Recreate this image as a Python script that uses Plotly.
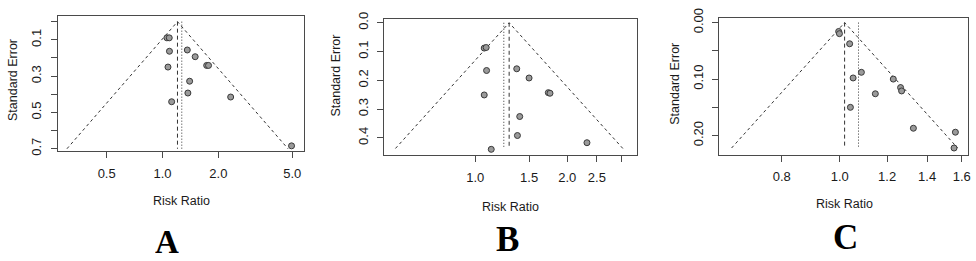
import math
import plotly.graph_objects as go

# ---------------- data ----------------
A_rr = [1.056, 1.087, 1.09, 1.36, 1.50, 1.73, 1.77, 1.07, 1.40, 1.37, 2.33, 1.12, 4.96]
A_se = [0.089, 0.089, 0.163, 0.156, 0.193, 0.241, 0.241, 0.250, 0.328, 0.393, 0.415, 0.441, 0.684]
A_est = 1.204      # dashed line / funnel apex
A_alt = 1.27       # dotted line
A_semax = 0.70

B_rr = [1.070, 1.086, 1.089, 1.367, 1.50, 1.734, 1.756, 1.070, 1.398, 1.374, 2.32, 1.128]
B_se = [0.088, 0.086, 0.166, 0.160, 0.192, 0.243, 0.245, 0.251, 0.326, 0.392, 0.417, 0.440]
B_est = 1.291
B_alt = 1.240
B_semax = 0.437

C_rr = [0.996, 0.999, 1.039, 1.087, 1.053, 1.229, 1.264, 1.269, 1.147, 1.042, 1.328, 1.561, 1.553]
C_se = [0.0157, 0.0196, 0.0375, 0.088, 0.098, 0.100, 0.115, 0.121, 0.126, 0.150, 0.187, 0.194, 0.222]
C_est = 1.019
C_alt = 1.075
C_semax = 0.222

A_xticks = [0.5, 1.0, 2.0, 5.0]
A_xtext = ["0.5", "1.0", "2.0", "5.0"]
A_yticks = [0.0, 0.1, 0.2, 0.3, 0.4, 0.5, 0.6, 0.7]
A_ytext = ["", "0.1", "", "0.3", "", "0.5", "", "0.7"]

B_xticks = [1.0, 1.5, 2.0, 2.5, 3.0]
B_xtext = ["1.0", "1.5", "2.0", "2.5", ""]
B_yticks = [0.0, 0.1, 0.2, 0.3, 0.4]
B_ytext = ["0.0", "0.1", "0.2", "0.3", "0.4"]

C_xticks = [0.8, 1.0, 1.2, 1.4, 1.6]
C_xtext = ["0.8", "1.0", "1.2", "1.4", "1.6"]
C_yticks = [0.00, 0.05, 0.10, 0.15, 0.20]
C_ytext = ["0.00", "", "0.10", "", "0.20"]

panel_letters = ["A", "B", "C"]
x_title = "Risk Ratio"
y_title = "Standard Error"

# ---------------- layout geometry (px) ----------------
W, H = 976, 261
boxes = [  # left, right, top, bottom
    (57.7, 305.0, 6.0, 149.5),
    (385.5, 638.5, 9.3, 153.3),
    (721.7, 971.0, 8.0, 152.7),
]
xranges = [(-0.566, 0.763), (-0.2975, 0.5277), (-0.201, 0.2145)]
yranges = [(0.715, -0.033), (0.46, -0.0138), (0.2335, -0.0089)]

panels = [
    (A_rr, A_se, A_est, A_alt, A_semax, A_xticks, A_xtext, A_yticks, A_ytext),
    (B_rr, B_se, B_est, B_alt, B_semax, B_xticks, B_xtext, B_yticks, B_ytext),
    (C_rr, C_se, C_est, C_alt, C_semax, C_xticks, C_xtext, C_yticks, C_ytext),
]

LINE = "#4a4a4a"
TXT = "#1a1a1a"
FONT = "Liberation Sans, Arial, sans-serif"

fig = go.Figure()
layout = {}
for i, (rr, se, est, alt, semax, xt, xtt, yt, ytt) in enumerate(panels):
    sfx = "" if i == 0 else str(i + 1)
    xa, ya = "x" + sfx, "y" + sfx
    l, r, t, b = boxes[i]
    # funnel
    lo = math.exp(math.log(est) - 1.96 * semax)
    hi = math.exp(math.log(est) + 1.96 * semax)
    fig.add_trace(go.Scatter(x=[lo, est, hi], y=[semax, 0, semax], mode="lines",
                             line=dict(color="#333333", width=1, dash="dot"),
                             xaxis=xa, yaxis=ya, showlegend=False, hoverinfo="skip"))
    fig.add_trace(go.Scatter(x=[est, est], y=[0, semax], mode="lines",
                             line=dict(color="#333333", width=1, dash="4px,3px"),
                             xaxis=xa, yaxis=ya, showlegend=False, hoverinfo="skip"))
    fig.add_trace(go.Scatter(x=[alt, alt], y=[0, semax], mode="lines",
                             line=dict(color="#333333", width=1, dash="1px,2px"),
                             xaxis=xa, yaxis=ya, showlegend=False, hoverinfo="skip"))
    fig.add_trace(go.Scatter(x=rr, y=se, mode="markers",
                             marker=dict(size=6, color="#9a9a9a",
                                         line=dict(color="#3a3a3a", width=1)),
                             xaxis=xa, yaxis=ya, showlegend=False))
    layout["xaxis" + sfx] = dict(
        domain=[l / W, r / W], anchor=ya, type="log", range=list(xranges[i]),
        tickmode="array", tickvals=xt, ticktext=xtt, ticks="outside", ticklen=6,
        tickcolor=LINE, showline=True, linecolor=LINE, linewidth=1, mirror=True,
        showgrid=False, zeroline=False, tickfont=dict(family=FONT, size=13, color=TXT),
        ticklabelstandoff=4,
    )
    layout["yaxis" + sfx] = dict(
        domain=[1 - b / H, 1 - t / H], anchor=xa, range=list(yranges[i]),
        tickmode="array", tickvals=yt, ticktext=ytt, ticks="outside", ticklen=6,
        tickcolor=LINE, showline=True, linecolor=LINE, linewidth=1, mirror=True,
        showgrid=False, zeroline=False, tickangle=-90,
        tickfont=dict(family=FONT, size=13, color=TXT), ticklabelstandoff=4,
    )

annotations = []
xtitle_pos = [(181.7, 202.3), (511.7, 207.7), (846.7, 205.0)]
ytitle_pos = [(13.0, 74.0), (337.3, 69.0), (676.7, 78.3)]
letter_pos = [(167.3, 245.3), (509.0, 242.5), (847.7, 239.5)]
letter_size = [33, 35, 35]
for i in range(3):
    x, y = xtitle_pos[i]
    annotations.append(dict(x=x / W, y=1 - y / H, xref="paper", yref="paper", text=x_title,
                            showarrow=False, xanchor="center", yanchor="middle",
                            font=dict(family=FONT, size=12.5, color=TXT)))
    x, y = ytitle_pos[i]
    annotations.append(dict(x=x / W, y=1 - y / H, xref="paper", yref="paper", text=y_title,
                            showarrow=False, xanchor="center", yanchor="middle", textangle=-90,
                            font=dict(family=FONT, size=12.5, color=TXT)))
    x, y = letter_pos[i]
    annotations.append(dict(x=x / W, y=1 - y / H, xref="paper", yref="paper",
                            text="<b>" + panel_letters[i] + "</b>",
                            showarrow=False, xanchor="center", yanchor="middle",
                            height=24, valign="middle", borderpad=0,
                            font=dict(family="Liberation Serif, Times New Roman, serif",
                                      size=letter_size[i], color="#000000")))

fig.update_layout(width=W, height=H, margin=dict(l=0, r=0, t=0, b=0),
                  paper_bgcolor="white", plot_bgcolor="white",
                  annotations=annotations, **layout)
fig.write_html("out.html", config={"displayModeBar": False},
               post_script="document.body.style.margin='0';document.body.style.overflow='hidden';")
